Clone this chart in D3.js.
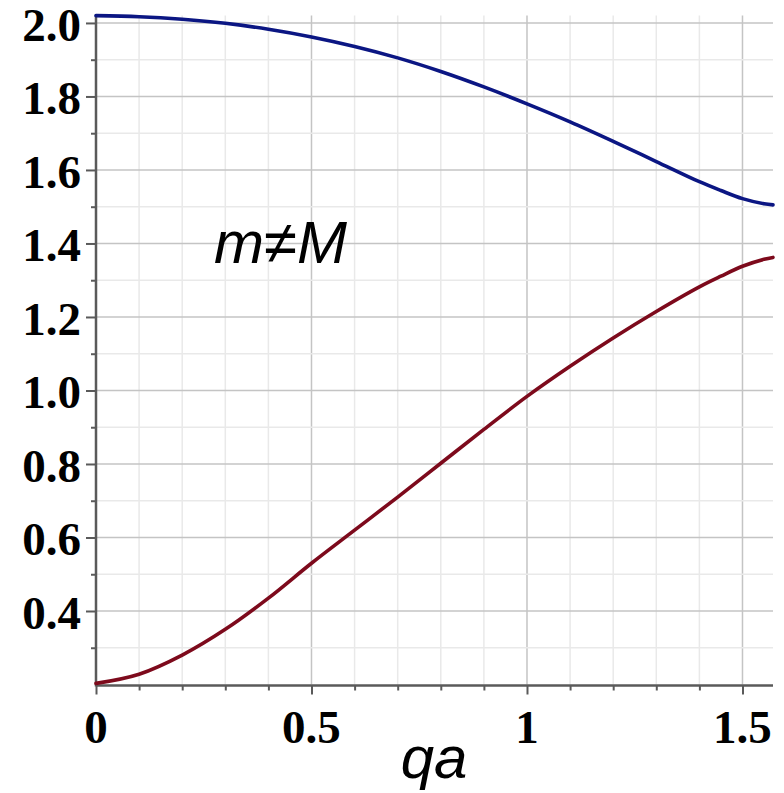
<!DOCTYPE html>
<html>
<head>
<meta charset="utf-8">
<script src="https://cdn.jsdelivr.net/npm/d3@7"></script>
<style>
  html, body { margin: 0; padding: 0; background: #fff; }
  svg { display: block; }
</style>
</head>
<body>
<svg id="chart" width="784" height="793"></svg>
<script>
const qa = [0, 0.1, 0.2, 0.3, 0.4, 0.5, 0.6, 0.7, 0.8, 0.9, 1.0, 1.1, 1.2, 1.3, 1.4, 1.45, 1.5, 1.55, Math.PI / 2];
const optical = [2.020, 2.017, 2.010, 1.999, 1.983, 1.962, 1.936, 1.905, 1.868, 1.826, 1.780, 1.731, 1.678, 1.623, 1.568, 1.544, 1.522, 1.508, 1.505];
const acoustic = [0.203, 0.228, 0.280, 0.350, 0.435, 0.530, 0.620, 0.710, 0.802, 0.894, 0.984, 1.066, 1.143, 1.215, 1.282, 1.311, 1.338, 1.357, 1.362];
const xTicks = [0, 0.5, 1, 1.5];
const xTickLabels = ["0", "0.5", "1", "1.5"];
const yTicks = [0.4, 0.6, 0.8, 1.0, 1.2, 1.4, 1.6, 1.8, 2.0];
const yTickLabels = ["0.4", "0.6", "0.8", "1.0", "1.2", "1.4", "1.6", "1.8", "2.0"];
const xMinor = d3.range(1, 16).map(i => i / 10);
const yMinor = d3.range(3, 21).map(i => i / 10);
const xLabel = "qa";
const note = "m\u2260M";

const svg = d3.select("#chart");
const x = d3.scaleLinear().domain([0, Math.PI / 2]).range([96, 773]);
const y = d3.scaleLinear().domain([0.2, 2.02]).range([684.5, 15.6]);

// grid
const grid = svg.append("g");
grid.selectAll(".vmin").data(xMinor).join("line")
  .attr("x1", d => x(d)).attr("x2", d => x(d))
  .attr("y1", y(0.2)).attr("y2", y(2.02))
  .attr("stroke", d => (Math.abs(d * 2 - Math.round(d * 2)) < 1e-6) ? "#c4c4c4" : "#e9e9e9")
  .attr("stroke-width", 1.5);
grid.selectAll(".hmin").data(yMinor).join("line")
  .attr("y1", d => y(d)).attr("y2", d => y(d))
  .attr("x1", x(0)).attr("x2", x(Math.PI / 2))
  .attr("stroke", d => (Math.abs(d * 5 - Math.round(d * 5)) < 1e-6) ? "#c4c4c4" : "#e9e9e9")
  .attr("stroke-width", 1.5);

// axes
const axisColor = "#5a5a5a";
const xAxis = d3.axisBottom(x).tickValues(xMinor.concat([0])).tickSize(5).tickFormat("");
const gx = svg.append("g").attr("transform", `translate(0,${y(0.2) + 1})`).call(xAxis);
gx.select(".domain").remove();
gx.selectAll(".tick line").attr("stroke", axisColor).attr("stroke-width", 2)
  .attr("y2", d => (Math.abs(d * 2 - Math.round(d * 2)) < 1e-6) ? 9 : 5);

const yAxis = d3.axisLeft(y).tickValues(yMinor).tickSize(5).tickFormat("");
const gy = svg.append("g").attr("transform", `translate(${x(0)},0)`).call(yAxis);
gy.select(".domain").remove();
gy.selectAll(".tick line").attr("stroke", axisColor).attr("stroke-width", 2)
  .attr("x2", d => (Math.abs(d * 5 - Math.round(d * 5)) < 1e-6) ? -10 : -5);

svg.append("line").attr("x1", x(0)).attr("x2", x(Math.PI / 2))
  .attr("y1", y(0.2) + 1).attr("y2", y(0.2) + 1)
  .attr("stroke", axisColor).attr("stroke-width", 2.5);
svg.append("line").attr("x1", x(0)).attr("x2", x(0))
  .attr("y1", y(2.02)).attr("y2", y(0.2) + 2)
  .attr("stroke", axisColor).attr("stroke-width", 2.5);

// tick labels
const tickFont = "'Liberation Serif', 'Times New Roman', serif";
svg.append("g").selectAll("text").data(yTicks).join("text")
  .attr("x", 81).attr("y", d => y(d) + 18)
  .attr("text-anchor", "end")
  .attr("font-family", tickFont).attr("font-weight", "bold").attr("font-size", 47)
  .text((d, i) => yTickLabels[i]);
svg.append("g").selectAll("text").data(xTicks).join("text")
  .attr("x", d => x(d)).attr("y", 743)
  .attr("text-anchor", "middle")
  .attr("font-family", tickFont).attr("font-weight", "bold").attr("font-size", 47)
  .text((d, i) => xTickLabels[i]);

// curves
const line = d3.line().x(d => x(d[0])).y(d => y(d[1])).curve(d3.curveCatmullRom.alpha(0.5));
svg.append("path").datum(qa.map((q, i) => [q, optical[i]]))
  .attr("d", line).attr("fill", "none").attr("stroke", "#0b1683").attr("stroke-width", 3.6)
  .attr("stroke-linecap", "round");
svg.append("path").datum(qa.map((q, i) => [q, acoustic[i]]))
  .attr("d", line).attr("fill", "none").attr("stroke", "#7d0a1c").attr("stroke-width", 3.6)
  .attr("stroke-linecap", "round");

// labels
const labelFont = "'Liberation Sans', Arial, sans-serif";
svg.append("text").attr("x", 434).attr("y", 778)
  .attr("text-anchor", "middle").attr("font-family", labelFont)
  .attr("font-style", "italic").attr("font-size", 60).text(xLabel);
svg.append("text").attr("x", 214).attr("y", 263)
  .attr("font-family", labelFont)
  .attr("font-style", "italic").attr("font-size", 60).text(note);
</script>
</body>
</html>
